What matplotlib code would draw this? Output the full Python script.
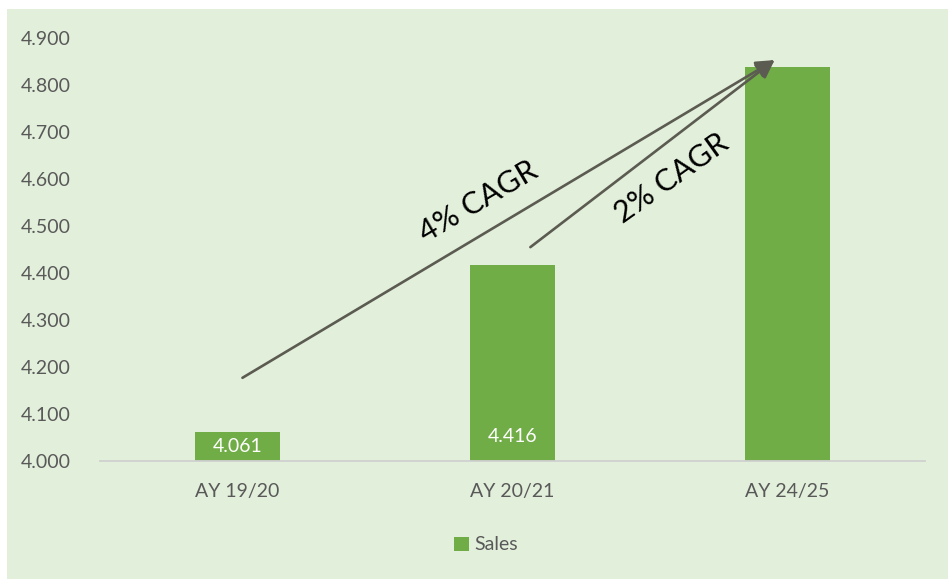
import matplotlib
matplotlib.use("Agg")
import matplotlib.pyplot as plt
from matplotlib.patches import Rectangle

categories = ["AY 19/20", "AY 20/21", "AY 24/25"]
sales = [4.061, 4.416, 4.838]
data_labels = ["4.061", "4.416", None]
y_ticks = [4.0, 4.1, 4.2, 4.3, 4.4, 4.5, 4.6, 4.7, 4.8, 4.9]
y_tick_labels = ["4.000", "4.100", "4.200", "4.300", "4.400", "4.500", "4.600", "4.700", "4.800", "4.900"]
cagr_labels = ["4% CAGR", "2% CAGR"]

plt.rcParams['font.family'] = ['Lato', 'DejaVu Sans']

BG = "#E2EFDA"
BAR = "#70AD47"
TXT = "#595959"
ARROW = "#5B5B52"

fig = plt.figure(figsize=(9.48, 5.79), dpi=100)
fig.patch.set_facecolor("white")
fig.patches.append(Rectangle((7/948, 0), 1, 1 - 9/579, transform=fig.transFigure,
                             facecolor=BG, edgecolor="none", zorder=-10))

ax = fig.add_axes([100/948, (579-461)/579, 825/948, (461-38)/579])
ax.set_facecolor("none")
x = list(range(len(categories)))
bars = ax.bar(x, sales, width=0.31, color=BAR, label="Sales", zorder=2)
ax.set_xlim(-0.5, len(categories) - 0.5)
ax.set_ylim(4.0, 4.9)
ax.set_yticks(y_ticks)
ax.set_yticklabels(y_tick_labels)
ax.set_xticks(x)
ax.set_xticklabels(categories)
ax.tick_params(axis='both', length=0, colors=TXT, labelsize=14)
ax.tick_params(axis='y', pad=21)
ax.tick_params(axis='x', pad=16)
for s in ["top", "right", "left"]:
    ax.spines[s].set_visible(False)
ax.spines["bottom"].set_color("#D0D0D0")
ax.spines["bottom"].set_linewidth(1.3)
ax.spines["bottom"].set_zorder(3)

label_offsets = [14, 24]
for i, (lbl, off) in enumerate(zip(data_labels, label_offsets + [0])):
    if lbl:
        ax.annotate(lbl, xy=(x[i], 4.0), xytext=(0, off), textcoords="offset pixels",
                    ha="center", va="center", color="white", fontsize=14, zorder=4)

# CAGR arrows
arrow_kw = dict(arrowstyle="-|>,head_length=1.1,head_width=0.55", color=ARROW, lw=1.9,
                shrinkA=0, shrinkB=0)
ax.annotate("", xy=(1.953, 4.853), xytext=(0.018, 4.177), arrowprops=arrow_kw, zorder=5)
ax.annotate("", xy=(1.953, 4.853), xytext=(1.065, 4.455), arrowprops=arrow_kw, zorder=5)

ax.text(0.876, 4.551, cagr_labels[0], rotation=30.5, ha="center", va="center",
        fontsize=22, color="black", rotation_mode="anchor")
ax.text(1.578, 4.602, cagr_labels[1], rotation=35.5, ha="center", va="center",
        fontsize=22, color="black", rotation_mode="anchor")

leg = fig.legend(handles=[bars], labels=["Sales"], loc="center",
                 bbox_to_anchor=(486/948, (579-545)/579), frameon=False,
                 fontsize=14, handlelength=0.75, handleheight=0.75, handletextpad=0.3)
for t in leg.get_texts():
    t.set_color(TXT)

fig.savefig("out.png", dpi=100, facecolor=fig.get_facecolor())
